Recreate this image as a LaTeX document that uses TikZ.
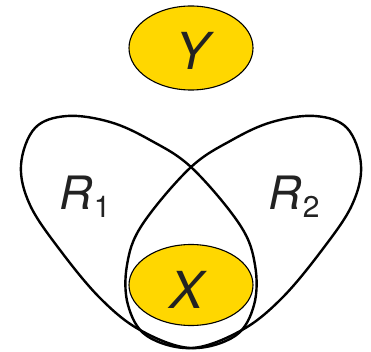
\documentclass[tikz,border=0pt]{standalone}
\usepackage{fontspec}
\setmainfont{TeX Gyre Heros}
\usetikzlibrary{shapes.geometric}
\definecolor{gold}{HTML}{FFD700}
\definecolor{ink}{HTML}{222222}
\newcommand{\subdig}[1]{\kern1.5pt\raisebox{-9pt}{\fontsize{30}{34}\selectfont\upshape #1}}
\begin{document}
\begin{tikzpicture}[x=1pt,y=-1pt,
  setbox/.style={ellipse, draw=black, line width=1.1pt, fill=gold, inner sep=0pt},
  region/.style={draw=black, line width=2.4pt},
  lbl/.style={text=ink, font=\fontsize{51}{60}\selectfont\itshape, inner sep=0pt},
  rlbl/.style={text=ink, font=\fontsize{46}{54}\selectfont\itshape, inner sep=0pt}]
\useasboundingbox (0,0) rectangle (371,352);
\draw[region] plot[smooth cycle, tension=0.6] coordinates {
 (190,348) (235,336) (254,305) (255,265) (240,225) (192,168) (150,140)
 (110,122) (67,116) (35,128) (21,165) (30,205) (60,250) (100,298) (140,330)};
\draw[region] plot[smooth cycle, tension=0.6] coordinates {
 (192,348) (147,336) (128,305) (127,265) (142,225) (190,168) (232,140)
 (272,122) (315,116) (347,128) (361,165) (352,205) (322,250) (282,298) (242,330)};
\node[setbox, minimum width=124pt, minimum height=84pt] (Y) at (191,48) {};
\node[setbox, minimum width=124pt, minimum height=81pt] (X) at (191,285) {};
\node[lbl, anchor=base] (ylbl) at (193,70) {Y};
\node[lbl, anchor=base] (xlbl) at (187,308) {X};
\node[rlbl, anchor=base west] (r1) at (59,209) {R\subdig{1}};
\node[rlbl, anchor=base west] (r2) at (268,209) {R\subdig{2}};
\end{tikzpicture}
\end{document}
